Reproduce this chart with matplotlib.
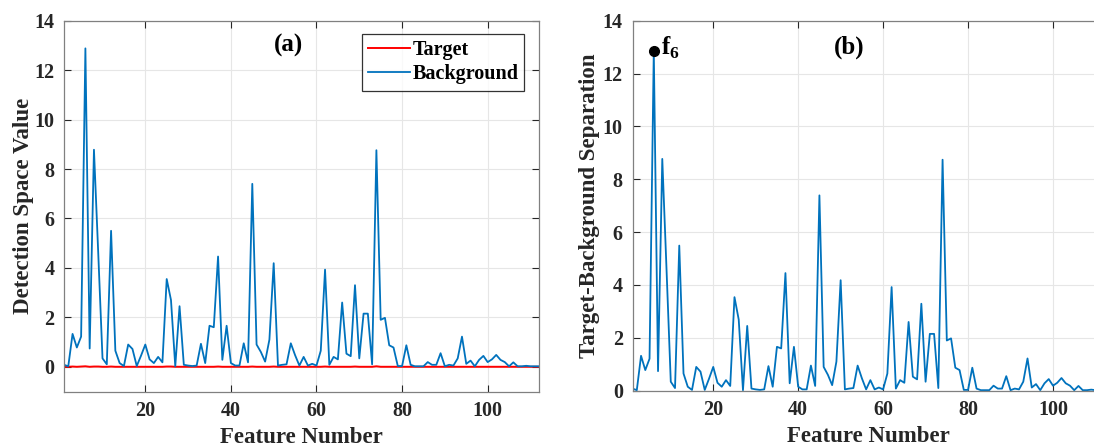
import numpy as np
import matplotlib
matplotlib.use("Agg")
import matplotlib.pyplot as plt

plt.rcParams['font.family'] = ['Liberation Serif', 'DejaVu Serif']
plt.rcParams['font.weight'] = 'bold'
plt.rcParams['mathtext.fontset'] = 'custom'
plt.rcParams['mathtext.rm'] = 'Liberation Serif:bold'
plt.rcParams['mathtext.bf'] = 'Liberation Serif:bold'

features = np.arange(1, 113)

background = [
    0.08, 0.02, 1.33, 0.78, 1.22, 12.88, 0.74, 8.78, 4.6, 0.34,
    0.1, 5.5, 0.65, 0.15, 0.03, 0.9, 0.72, 0.03, 0.45, 0.9,
    0.3, 0.15, 0.4, 0.18, 3.55, 2.7, 0.02, 2.45, 0.08, 0.05,
    0.03, 0.05, 0.93, 0.15, 1.66, 1.6, 4.46, 0.28, 1.66, 0.15,
    0.05, 0.05, 0.95, 0.18, 7.4, 0.9, 0.6, 0.21, 1.1, 4.19,
    0.05, 0.08, 0.1, 0.95, 0.47, 0.05, 0.4, 0.05, 0.12, 0.05,
    0.65, 3.93, 0.08, 0.4, 0.3, 2.6, 0.53, 0.43, 3.3, 0.34,
    2.15, 2.15, 0.1, 8.76, 1.9, 1.98, 0.87, 0.78, 0.03, 0.03,
    0.87, 0.08, 0.02, 0.02, 0.02, 0.19, 0.08, 0.08, 0.55, 0.02,
    0.08, 0.05, 0.34, 1.22, 0.12, 0.25, 0.02, 0.28, 0.44, 0.19,
    0.3, 0.48, 0.28, 0.19, 0.02, 0.18, 0.02, 0.02, 0.04, 0.02,
    0.02, 0.02,
]

target = [
    0.0, 0.0, 0.01, 0.0, 0.01, 0.02, 0.0, 0.01, 0.01, 0.0,
    0.0, 0.01, 0.0, 0.0, 0.0, 0.0, 0.0, 0.0, 0.0, 0.0,
    0.0, 0.0, 0.0, 0.0, 0.01, 0.01, 0.0, 0.0, 0.0, 0.0,
    0.0, 0.0, 0.0, 0.0, 0.0, 0.0, 0.01, 0.0, 0.0, 0.0,
    0.0, 0.0, 0.0, 0.0, 0.01, 0.0, 0.0, 0.0, 0.0, 0.01,
    0.0, 0.0, 0.0, 0.0, 0.0, 0.0, 0.0, 0.0, 0.0, 0.0,
    0.0, 0.01, 0.0, 0.0, 0.0, 0.0, 0.0, 0.0, 0.01, 0.0,
    0.0, 0.0, 0.0, 0.02, 0.0, 0.0, 0.0, 0.0, 0.0, 0.0,
    0.0, 0.0, 0.0, 0.0, 0.0, 0.0, 0.0, 0.0, 0.0, 0.0,
    0.0, 0.0, 0.0, 0.0, 0.0, 0.0, 0.0, 0.0, 0.0, 0.0,
    0.0, 0.0, 0.0, 0.0, 0.0, 0.0, 0.0, 0.0, 0.0, 0.0,
    0.0, 0.0,
]

separation = np.abs(np.array(background) - np.array(target))
best = int(np.argmax(separation))

xticks = [20, 40, 60, 80, 100]
yticks = [0, 2, 4, 6, 8, 10, 12, 14]

blue = '#0072BD'
red = '#FF0000'
axcol = '#262626'

fig = plt.figure(figsize=(10.94, 4.48), dpi=100)
ax1 = fig.add_axes([0.0585, 0.1261, 0.4342, 0.8277])
ax2 = fig.add_axes([0.5782, 0.1279, 0.4309, 0.8259])


def style(ax, ylim):
    ax.set_xlim(1, 112)
    ax.set_ylim(*ylim)
    ax.set_xticks(xticks)
    ax.set_yticks(yticks)
    ax.grid(True, color='#e6e6e6', lw=0.8)
    ax.set_axisbelow(True)
    ax.tick_params(direction='in', length=5, width=0.8, colors=axcol,
                   top=True, right=True, labelsize=14.5, pad=7)
    for lab in ax.get_xticklabels() + ax.get_yticklabels():
        lab.set_fontweight('bold')
    for sp in ax.spines.values():
        sp.set_color('#808080')
        sp.set_linewidth(0.9)
    ax.set_xlabel('Feature Number', fontsize=16.5, fontweight='bold',
                  color=axcol, labelpad=4)


# (a)
ax1.plot(features, target, color=red, lw=1.4, label='Target')
ax1.plot(features, background, color=blue, lw=1.3, label='Background')
style(ax1, (-1, 14))
ax1.set_ylabel('Detection Space Value', fontsize=16.5, fontweight='bold',
               color=axcol, labelpad=0)
ax1.text(53.5, 13.0, '(a)', fontsize=18, fontweight='bold', ha='center',
         va='center', color='black')
leg = ax1.legend(loc='upper right', bbox_to_anchor=(0.969, 0.963),
                 borderaxespad=0, fontsize=14.5, frameon=True, fancybox=False,
                 handlelength=2.1, handletextpad=0.1, labelspacing=0.2,
                 borderpad=0.3)
leg.get_frame().set_edgecolor('black')
leg.get_frame().set_linewidth(0.9)
for t in leg.get_texts():
    t.set_fontweight('bold')

# (b)
ax2.plot(features, separation, color=blue, lw=1.3)
ax2.plot(features[best], separation[best], 'o', color='black', ms=7)
style(ax2, (0, 14))
ax2.set_ylabel('Target-Background Separation', fontsize=16.5,
               fontweight='bold', color=axcol, labelpad=2)
ax2.text(features[best] + 4.0, separation[best] + 0.1,
         r'$\mathrm{f}_{\mathrm{6}}$', fontsize=18, ha='center', va='center',
         color='black')
ax2.text(52, 13.0, '(b)', fontsize=18, fontweight='bold', ha='center',
         va='center', color='black')

fig.savefig('out.png', dpi=100)
